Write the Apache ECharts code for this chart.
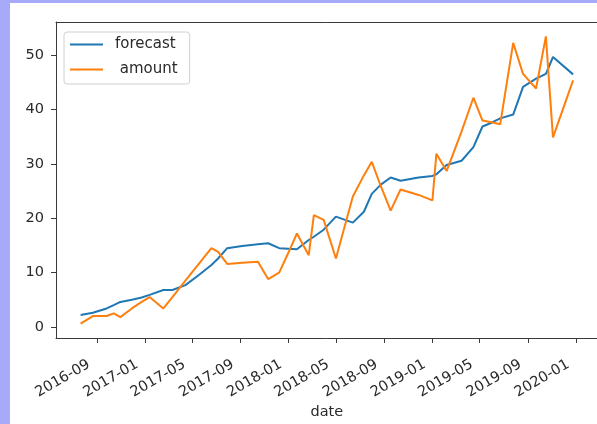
<!DOCTYPE html>
<html>
<head>
<meta charset="utf-8">
<script src="https://cdn.jsdelivr.net/npm/echarts@6/dist/echarts.min.js"></script>
<style>
  html, body { margin: 0; padding: 0; width: 597px; height: 424px; background: #a7aaf9; overflow: hidden; }
  #chart { position: absolute; left: 10px; top: 3px; width: 587px; height: 421px; background: #ffffff; }
</style>
</head>
<body>
<div id="chart"></div>
<script>
// ---- data ----
const dates = [
  '2016-07-22','2016-08-22','2016-09-26','2016-10-14','2016-10-31','2016-11-29','2016-12-24',
  '2017-01-13','2017-02-17','2017-03-12','2017-04-14','2017-05-19','2017-06-19','2017-07-06',
  '2017-07-29','2017-09-05','2017-10-15','2017-11-10','2017-12-08','2017-12-31','2018-01-22',
  '2018-02-21','2018-03-06','2018-03-31','2018-05-01','2018-06-13','2018-07-11','2018-07-31',
  '2018-08-23','2018-09-17','2018-10-12','2018-11-27','2019-01-01','2019-01-11','2019-02-06',
  '2019-03-16','2019-04-15','2019-05-08','2019-05-31','2019-06-22','2019-07-25','2019-08-19',
  '2019-09-21','2019-10-16','2019-11-03','2019-12-24'
];
const forecast = [
  2.2, 2.6, 3.4, 4.0, 4.6, 5.0, 5.4,
  5.9, 6.8, 6.8, 7.7, 9.6, 11.4, 12.6,
  14.5, 14.9, 15.2, 15.4, 14.5, 14.4, 14.3,
  16.0, 16.6, 17.9, 20.3, 19.2, 21.2, 24.5,
  26.2, 27.5, 26.9, 27.5, 27.8, 28.1, 29.8,
  30.6, 33.1, 36.9, 37.6, 38.4, 39.1, 44.2,
  45.7, 46.6, 49.7, 46.5
];
const amount = [
  0.6, 2.0, 2.0, 2.5, 1.8, 3.4, 4.6,
  5.5, 3.4, 5.5, 8.5, 11.7, 14.5, 13.8,
  11.6, 11.8, 12.0, 8.8, 10.0, 13.6, 17.2,
  13.2, 20.6, 19.7, 12.6, 24.0, 27.9, 30.4,
  25.9, 21.4, 25.3, 24.3, 23.3, 31.9, 28.7,
  36.0, 42.2, 38.0, 37.7, 37.3, 52.3, 46.6,
  43.9, 53.5, 34.9, 45.4
];
const xTickLabels = ['2016-09','2017-01','2017-05','2017-09','2018-01','2018-05','2018-09','2019-01','2019-05','2019-09','2020-01'];
const yTickValues = [0, 10, 20, 30, 40, 50];
const seriesNames = ['forecast', ' amount'];
const xAxisTitle = 'date';

// ---- build ----
function ts(s) {
  const p = s.split('-').map(Number);
  return Date.UTC(p[0], p[1] - 1, p[2] || 1);
}
const xs = dates.map(ts);
const xTickValues = xTickLabels.map(ts);
const labelByTs = {};
xTickValues.forEach((v, i) => { labelByTs[v] = xTickLabels[i]; });

// matplotlib-like 5% margins
const xMinD = Math.min(...xs), xMaxD = Math.max(...xs);
const xPad = (xMaxD - xMinD) * 0.05;
const allY = forecast.concat(amount);
const yMinD = Math.min(...allY), yMaxD = Math.max(...allY);
const yPad = (yMaxD - yMinD) * 0.05;

const font = 'DejaVu Sans';
const fs = 14.5;
const axisColor = '#3a3a3a';
const textColor = '#2a2a2a';

const chart = echarts.init(document.getElementById('chart'), null, { renderer: 'canvas' });
chart.setOption({
  animation: false,
  textStyle: { fontFamily: font },
  color: ['#1f77b4', '#ff7f0e'],
  grid: {
    left: 46, top: 19, right: -0.7, bottom: 86,
    outerBoundsMode: 'none',
    containLabel: false,
    show: false
  },
  legend: {
    orient: 'vertical',
    left: 54, top: 29,
    data: seriesNames,
    icon: 'rect',
    itemWidth: 33, itemHeight: 2,
    itemGap: 10,
    padding: [5, 12, 7, 6],
    backgroundColor: 'rgba(255,255,255,0.8)',
    borderColor: '#d0d0d0', borderWidth: 1, borderRadius: 3,
    textStyle: { fontFamily: font, fontSize: 15, color: textColor, padding: [0, 0, 0, 7] }
  },
  xAxis: [{
    type: 'value',
    min: xMinD - xPad,
    max: xMaxD + xPad,
    name: xAxisTitle,
    nameLocation: 'middle',
    nameGap: 67,
    nameMoveOverlap: false,
    nameTextStyle: { fontFamily: font, fontSize: fs, color: textColor },
    splitLine: { show: false },
    axisLine: { show: true, onZero: false, lineStyle: { color: axisColor, width: 1 } },
    axisTick: { show: true, customValues: xTickValues, length: 5, lineStyle: { color: axisColor } },
    axisLabel: {
      customValues: xTickValues,
      rotate: 30,
      margin: 21,
      padding: [0, 9, 0, 0],
      fontFamily: font, fontSize: fs, color: textColor,
      formatter: v => labelByTs[v] || ''
    }
  }, {
    type: 'value',
    position: 'top',
    min: xMinD - xPad,
    max: xMaxD + xPad,
    splitLine: { show: false },
    axisLine: { show: true, onZero: false, lineStyle: { color: axisColor, width: 1 } },
    axisTick: { show: false },
    axisLabel: { show: false }
  }],
  yAxis: {
    type: 'value',
    min: yMinD - yPad,
    max: yMaxD + yPad,
    splitLine: { show: false },
    axisLine: { show: true, onZero: false, lineStyle: { color: axisColor, width: 1 } },
    axisTick: { show: true, customValues: yTickValues, length: 5, lineStyle: { color: axisColor } },
    axisLabel: {
      customValues: yTickValues,
      margin: 12,
      fontFamily: font, fontSize: fs, color: textColor,
      formatter: v => String(v)
    }
  },
  series: [
    {
      name: seriesNames[0], type: 'line', symbol: 'none', xAxisIndex: 0,
      data: xs.map((x, i) => [x, forecast[i]]),
      lineStyle: { width: 2, color: '#1f77b4' }
    },
    {
      name: seriesNames[1], type: 'line', symbol: 'none', xAxisIndex: 0,
      data: xs.map((x, i) => [x, amount[i]]),
      lineStyle: { width: 2, color: '#ff7f0e' }
    }
  ]
});
</script>
</body>
</html>
